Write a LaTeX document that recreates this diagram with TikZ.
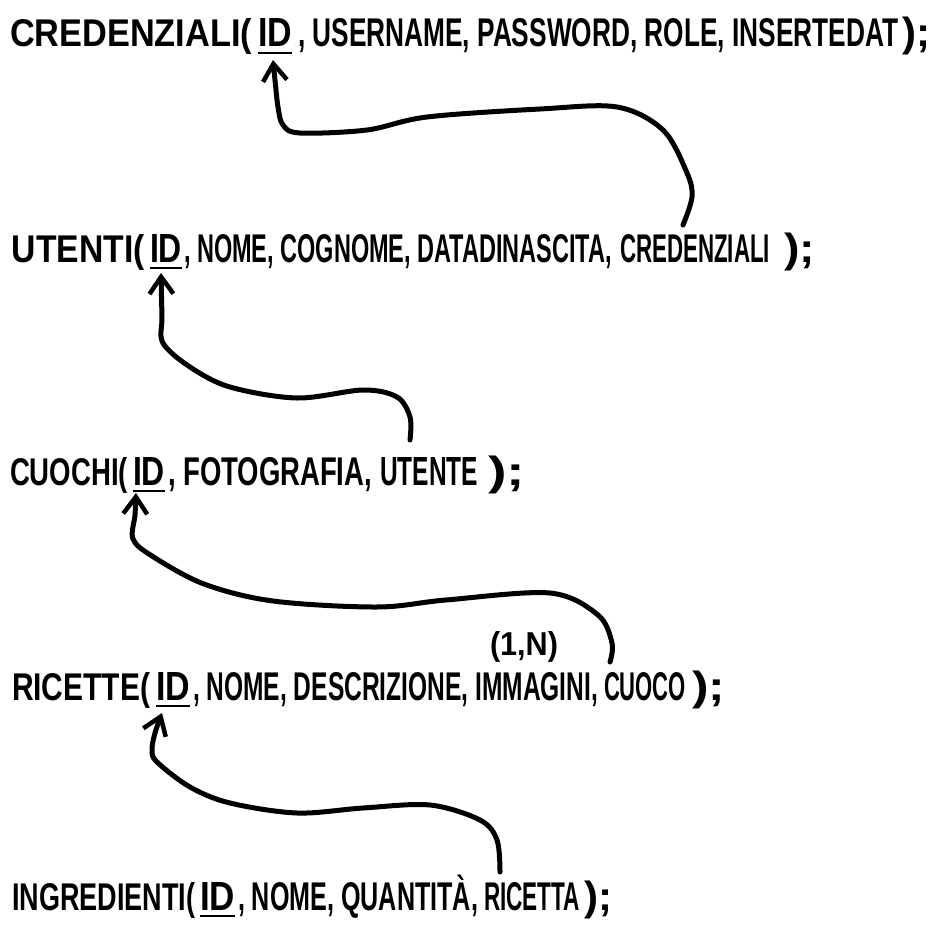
\documentclass[tikz,border=0pt]{standalone}
\usepackage{fontspec}
\setmainfont{Liberation Sans}
\usetikzlibrary{arrows.meta,calc}
\newcommand{\hw}[2]{\resizebox{#1pt}{28pt}{\textbf{#2}}}
\newcommand{\hwend}[1]{\resizebox*{#1pt}{38pt}{\textbf{);}}}
\begin{document}
\begin{tikzpicture}[x=1pt,y=-1pt,
  txt/.style={anchor=base west,inner sep=0pt,outer sep=0pt},
  conn/.style={line width=5pt,line cap=round,line join=round,
    -{Straight Barb[length=17pt,width=24pt,line width=4.5pt]}}]
\useasboundingbox (0,0) rectangle (942,928);
% line 1
\node[txt] (cr1) at (10,47) {\hw{242}{CREDENZIALI(}};
\node[txt] (id1) at (258,47) {\hw{34}{\underline{ID}}};
\node[txt] (rest1) at (298,47) {\hw{600}{, USERNAME, PASSWORD, ROLE, INSERTEDAT}};
\node[txt] (end1) at (902,47) {\hwend{28}};
% line 2
\node[txt] (ut2) at (12,262) {\hw{133}{UTENTI(}};
\node[txt] (id2) at (150,262) {\hw{32}{\underline{ID}}};
\node[txt] (mid2) at (184,262) {\hw{428}{, NOME, COGNOME, DATADINASCITA,}};
\node[txt] (cr2) at (620,262) {\hw{150}{CREDENZIALI}};
\node[txt] (end2) at (784,262) {\hwend{31}};
% line 3
\node[txt] (cu3) at (10,485) {\hw{118}{CUOCHI(}};
\node[txt] (id3) at (133,485) {\hw{32}{\underline{ID}}};
\node[txt] (mid3) at (168,485) {\hw{204}{, FOTOGRAFIA,}};
\node[txt] (ut3) at (380,485) {\hw{98}{UTENTE}};
\node[txt] (end3) at (488,485) {\hwend{37}};
% line 4
\node[txt] (ri4) at (12,700) {\hw{138}{RICETTE(}};
\node[txt] (id4) at (156,700) {\hw{34}{\underline{ID}}};
\node[txt] (mid4) at (193,700) {\hw{405}{, NOME, DESCRIZIONE, IMMAGINI,}};
\node[txt] (cu4) at (604,700) {\hw{82}{CUOCO}};
\node[txt] (end4) at (692,700) {\hwend{33}};
\node[txt] (card) at (490,655) {\resizebox{68pt}{24pt}{\textbf{(1,N)}}};
% line 5
\node[txt] (in5) at (12,910) {\hw{183}{INGREDIENTI(}};
\node[txt] (id5) at (200,910) {\hw{35}{\underline{ID}}};
\node[txt] (mid5) at (238,910) {\hw{240}{, NOME, QUANTIT\smash{À},}};
\node[txt] (ri5) at (484,910) {\hw{96}{RICETTA}};
\node[txt] (end5) at (584,910) {\hwend{28}};
% connector end points
\coordinate (s1) at ($(cr2.north west)+(63,-9)$);
\coordinate (t1) at ($(id1.base)+(-2,13)$);
\coordinate (s2) at ($(ut3.north west)+(30,-17)$);
\coordinate (t2) at ($(id2.base)+(-5,11)$);
\coordinate (s3) at ($(cu4.north west)+(6,-10)$);
\coordinate (t3) at ($(id3.base)+(-13,8)$);
\coordinate (s4) at ($(ri5.north west)+(16,-10)$);
\coordinate (t4) at ($(id4.base)+(-11,13)$);
% connectors
\draw[conn] plot[smooth,tension=0.55] coordinates {(s1) (692,197) (687,173) (663,130) (617,107) (540,109) (427,117) (367,130) (300,133) (283,125) (278,107) (275,80) (t1)};
\draw[conn] plot[smooth,tension=0.55] coordinates {(s2) (410,417) (397,397) (363,390) (297,398) (230,387) (190,367) (163,343) (162,317) (t2)};
\draw[conn] plot[smooth,tension=0.55] coordinates {(s3) (612,643) (598,615) (550,593) (446,600) (377,607) (273,601) (204,584) (152,556) (133,539) (135,515) (t3)};
\draw[conn] plot[smooth,tension=0.55] coordinates {(s4) (497,840) (480,820) (430,805) (363,808) (297,813) (230,803) (190,787) (157,762) (152,750) (155,733) (t4)};
\end{tikzpicture}
\end{document}
